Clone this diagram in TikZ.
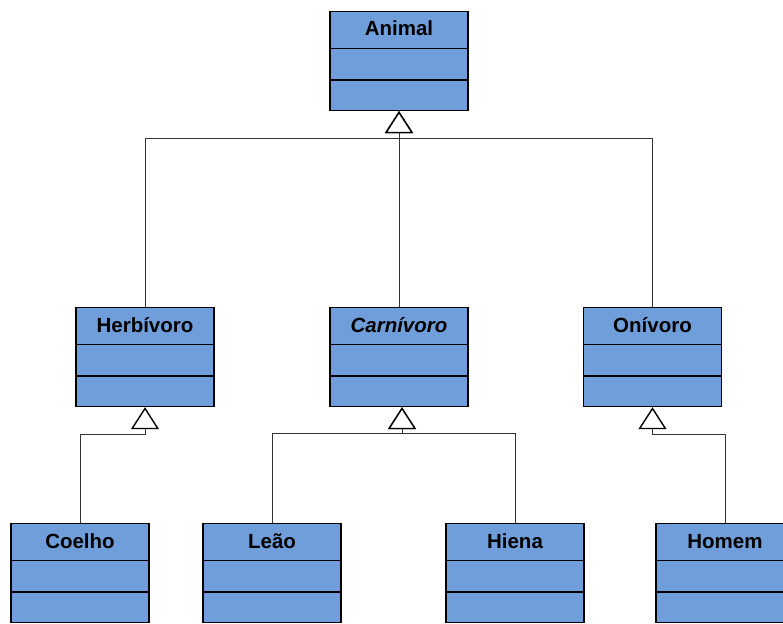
\documentclass[tikz,border=0pt]{standalone}
\usepackage{fontspec}
\setsansfont{Liberation Sans}
\usetikzlibrary{shapes.multipart,arrows.meta}

\definecolor{umlblue}{RGB}{112,158,218}
\newcommand{\ClassBox}[1]{\rule[-12pt]{0pt}{35.6pt}#1\nodepart{second}\rule{0pt}{30pt}\nodepart{third}\rule{0pt}{29pt}}

\tikzset{
  umlclass/.style={rectangle split, rectangle split parts=3, rectangle split draw splits,
    draw, fill=umlblue, line width=1.4pt, inner sep=0pt, minimum width=138pt,
    anchor=north, font=\sffamily\bfseries\fontsize{20.5}{22}\selectfont},
  isa/.style={draw=black!80, line width=0.8pt,
    -{Triangle[open, width=28pt, length=22pt, line width=1.4pt, fill=white, color=black]}}
}

\begin{document}
\begin{tikzpicture}[x=1pt,y=-1pt]
    \path[use as bounding box, clip] (0,0) rectangle (783,623);
    % classes
    \node[umlclass] (animal) at (399,11) {\ClassBox{Animal}};
    \node[umlclass] (herb) at (145,307) {\ClassBox{Herbívoro}};
    \node[umlclass] (carn) at (399,307) {\ClassBox{\itshape Carnívoro}};
    \node[umlclass] (oni) at (652.5,307) {\ClassBox{Onívoro}};
    \node[umlclass] (coelho) at (80,523) {\ClassBox{Coelho}};
    \node[umlclass] (leao) at (272,523) {\ClassBox{Leão}};
    \node[umlclass] (hiena) at (515,523) {\ClassBox{Hiena}};
    \node[umlclass] (homem) at (725,523) {\ClassBox{Homem}};
    %
    \draw[isa] (herb.north) |- ([yshift=-27pt]animal.south) -- (animal.south);
    \draw[isa] (carn.north) -- (animal.south);
    \draw[isa] (oni.north) |- ([yshift=-27pt]animal.south) -- (animal.south);
    %
    \draw[isa] (coelho.north) |- ([yshift=-27pt]herb.south) -- (herb.south);
    \draw[isa] (leao.north) |- ([xshift=3pt,yshift=-26pt]carn.south) -- ([xshift=3pt]carn.south);
    \draw[isa] (hiena.north) |- ([xshift=3pt,yshift=-26pt]carn.south) -- ([xshift=3pt]carn.south);
    \draw[isa] (homem.north) |- ([yshift=-27pt]oni.south) -- (oni.south);
\end{tikzpicture}
\end{document}
